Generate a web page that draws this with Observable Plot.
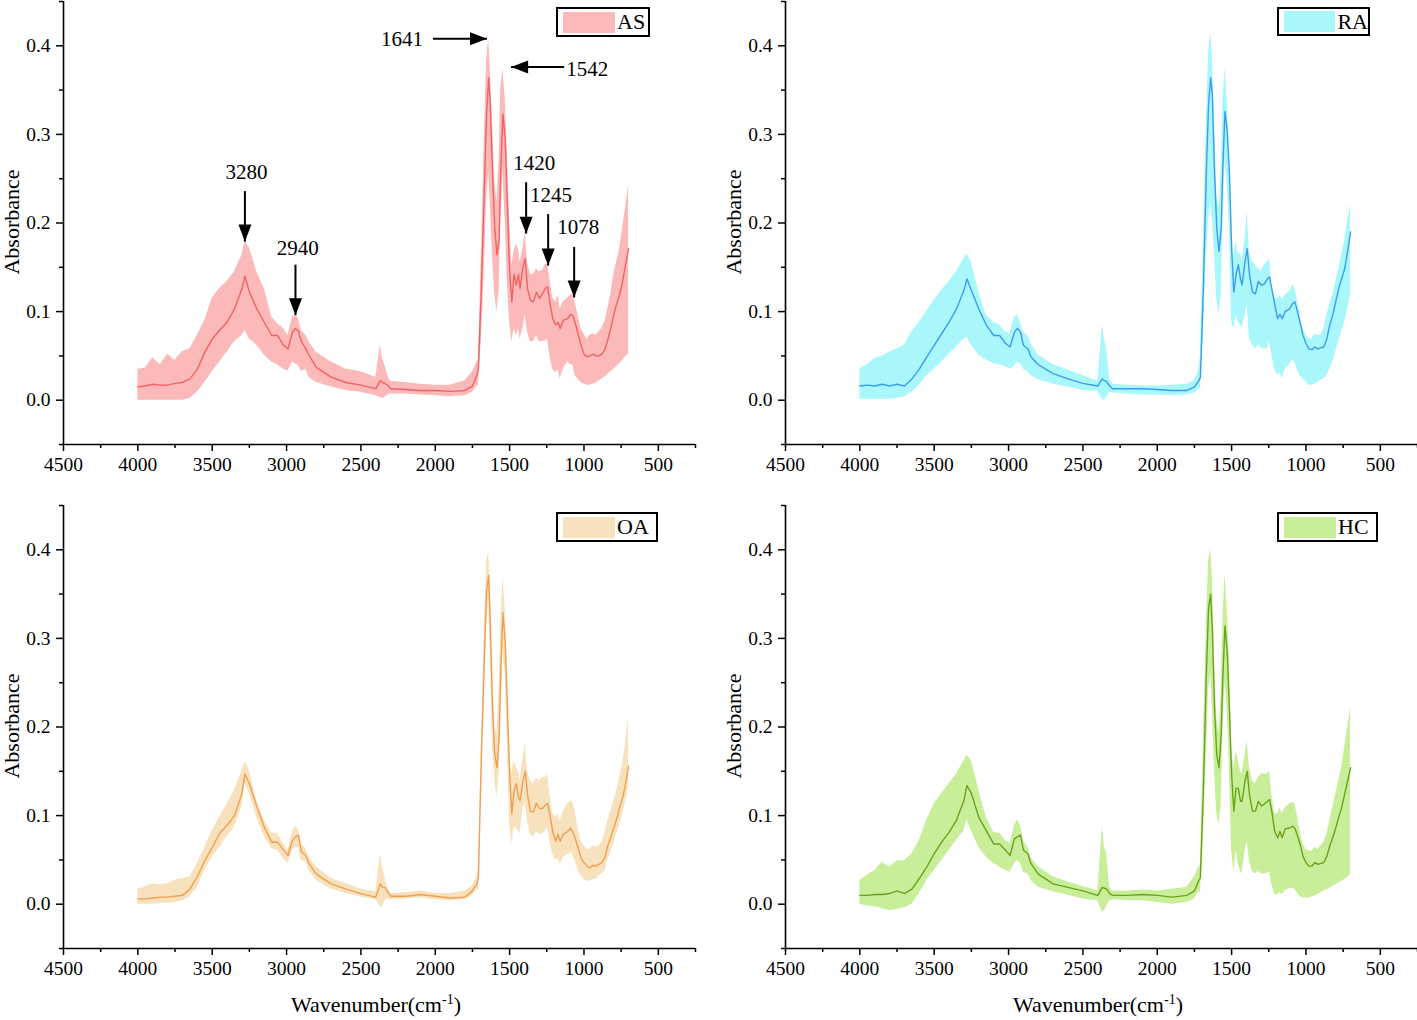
<!DOCTYPE html>
<html>
<head>
<meta charset="utf-8">
<script src="https://cdn.jsdelivr.net/npm/d3@7"></script>
<script src="https://cdn.jsdelivr.net/npm/@observablehq/plot@0.6"></script>
<style>
  html, body { margin: 0; padding: 0; background: #fff; }
  #wrap { position: relative; width: 1417px; height: 1020px; overflow: hidden; background: #fff; font-family: "Liberation Serif", "DejaVu Serif", serif; color: #000; }
  .panel { position: absolute; }
  .ylab { position: absolute; font-size: 22px; white-space: nowrap; transform: translate(-50%, -50%) rotate(-90deg); }
  .xlab { position: absolute; font-size: 22px; white-space: nowrap; transform: translate(-50%, -50%); }
  .xlab sup { font-size: 14px; vertical-align: 8px; line-height: 0; }
  .legend { position: absolute; box-sizing: border-box; border: 2px solid #000; display: flex; align-items: center; padding-left: 5px; font-size: 22px; background: #fff; }
  .legend .sw { width: 52px; height: 21px; margin-right: 2px; }
</style>
</head>
<body>
<div id="wrap"></div>
<script>
// ---- Data ----
const wn = [4000,3950,3900,3850,3800,3750,3700,3650,3600,3550,
  3500,3450,3400,3350,3300,3280,3250,3200,3150,3100,
  3060,3020,2990,2960,2940,2920,2900,2870,2850,2800,
  2700,2600,2500,2400,2370,2355,2340,2320,2300,2200,
  2100,2000,1900,1800,1750,1720,1710,1690,1670,1655,
  1641,1630,1615,1600,1585,1570,1560,1545,1530,1515,
  1500,1485,1470,1455,1440,1430,1410,1395,1380,1360,
  1340,1320,1300,1280,1260,1245,1230,1210,1190,1175,
  1160,1140,1110,1090,1075,1060,1040,1020,1000,980,
  960,940,920,900,880,860,840,820,800,780,
  760,740,720,700];

const asMean = [.015,.016,.018,.017,.017,.019,.020,.024,.035,.054,
  .069,.079,.088,.103,.126,.140,.122,.103,.088,.073,
  .073,.062,.058,.077,.081,.078,.066,.058,.051,.037,
  .026,.020,.017,.013,.022,.020,.019,.017,.013,.012,
  .011,.011,.010,.011,.016,.028,.035,.126,.239,.323,
  .364,.334,.258,.194,.164,.182,.258,.323,.296,.221,
  .145,.111,.142,.130,.142,.126,.150,.160,.126,.113,
  .111,.122,.115,.120,.126,.128,.111,.092,.085,.088,
  .081,.090,.092,.097,.095,.088,.075,.062,.052,.049,
  .050,.052,.050,.050,.052,.057,.068,.081,.096,.109,
  .119,.134,.153,.171];
const asHi = [.035,.036,.048,.040,.052,.045,.055,.058,.073,.090,
  .115,.126,.134,.145,.164,.179,.172,.145,.126,.094,
  .086,.081,.073,.094,.096,.092,.079,.073,.066,.054,
  .043,.035,.032,.026,.062,.047,.040,.028,.021,.020,
  .018,.017,.017,.022,.032,.043,.046,.164,.296,.383,
  .409,.372,.315,.247,.224,.277,.352,.374,.341,.277,
  .202,.153,.168,.176,.171,.156,.171,.190,.156,.142,
  .142,.148,.145,.146,.153,.154,.137,.115,.111,.119,
  .103,.111,.115,.119,.120,.111,.096,.081,.075,.069,
  .073,.075,.073,.077,.081,.088,.103,.119,.142,.156,
  .171,.194,.217,.243];
const asLo = [.000,.000,.000,.000,.000,.000,.000,.002,.009,.020,
  .032,.043,.054,.066,.073,.079,.069,.062,.051,.043,
  .040,.035,.033,.043,.041,.039,.032,.035,.026,.020,
  .015,.011,.009,.005,.003,.002,.003,.006,.007,.007,
  .006,.005,.004,.005,.009,.016,.017,.069,.145,.224,
  .258,.221,.164,.119,.100,.126,.202,.258,.202,.134,
  .088,.066,.081,.073,.081,.069,.081,.096,.077,.066,
  .066,.073,.066,.066,.067,.069,.051,.035,.031,.035,
  .024,.035,.043,.040,.040,.028,.024,.020,.018,.017,
  .017,.018,.019,.022,.024,.026,.029,.032,.035,.038,
  .041,.045,.049,.053];

const raMean = [.016,.017,.016,.018,.016,.018,.016,.024,.035,.049,
  .062,.075,.088,.103,.124,.137,.124,.103,.085,.073,
  .073,.064,.060,.077,.081,.077,.062,.058,.049,.040,
  .030,.024,.019,.016,.024,.022,.021,.016,.013,.013,
  .013,.012,.011,.011,.015,.022,.026,.126,.258,.334,
  .364,.346,.258,.194,.168,.194,.258,.326,.304,.258,
  .171,.122,.142,.153,.137,.130,.156,.171,.142,.122,
  .120,.134,.130,.131,.137,.139,.126,.108,.092,.097,
  .092,.100,.103,.109,.111,.102,.088,.073,.064,.058,
  .057,.060,.058,.059,.060,.069,.085,.096,.111,.126,
  .137,.148,.168,.190];
const raHi = [.035,.040,.047,.050,.054,.058,.062,.077,.088,.100,
  .113,.124,.134,.145,.160,.165,.156,.122,.096,.088,
  .085,.077,.075,.094,.096,.088,.077,.073,.064,.051,
  .040,.034,.028,.021,.085,.069,.058,.024,.018,.017,
  .016,.016,.017,.018,.022,.035,.051,.182,.315,.391,
  .415,.391,.315,.232,.217,.258,.334,.375,.341,.284,
  .194,.164,.179,.164,.166,.156,.182,.213,.166,.156,
  .153,.148,.146,.153,.156,.160,.130,.115,.115,.119,
  .114,.119,.122,.130,.126,.115,.096,.081,.073,.069,
  .069,.075,.073,.073,.081,.096,.108,.119,.134,.148,
  .164,.179,.202,.221];
const raLo = [.001,.001,.001,.001,.001,.002,.004,.009,.017,.028,
  .035,.043,.052,.060,.069,.071,.062,.051,.045,.041,
  .040,.038,.035,.038,.043,.041,.035,.032,.028,.023,
  .018,.015,.011,.010,.001,.000,.004,.009,.008,.007,
  .006,.006,.005,.006,.008,.012,.013,.069,.164,.202,
  .221,.205,.164,.115,.096,.119,.194,.270,.247,.194,
  .088,.081,.096,.088,.085,.081,.096,.108,.069,.062,
  .058,.062,.058,.058,.058,.066,.051,.035,.028,.031,
  .024,.035,.040,.046,.043,.035,.028,.024,.020,.017,
  .017,.018,.020,.023,.024,.028,.035,.043,.054,.066,
  .077,.088,.103,.119];

const oaMean = [.006,.006,.007,.008,.008,.009,.010,.017,.031,.049,
  .064,.080,.089,.100,.125,.147,.136,.110,.087,.070,
  .070,.061,.055,.072,.076,.078,.059,.055,.046,.034,
  .023,.017,.012,.008,.023,.019,.019,.014,.009,.009,
  .011,.009,.007,.008,.015,.023,.030,.165,.278,.354,
  .371,.316,.222,.169,.154,.192,.260,.329,.297,.222,
  .147,.102,.128,.136,.120,.117,.139,.150,.124,.105,
  .104,.114,.108,.108,.112,.114,.102,.082,.071,.079,
  .071,.079,.082,.086,.082,.075,.064,.052,.047,.043,
  .041,.044,.043,.045,.047,.052,.066,.075,.086,.096,
  .109,.120,.136,.156];
const oaHi = [.017,.020,.023,.022,.023,.027,.029,.031,.046,.064,
  .083,.098,.113,.129,.151,.162,.151,.117,.095,.080,
  .080,.068,.061,.083,.087,.085,.068,.063,.053,.042,
  .029,.023,.017,.014,.057,.042,.031,.019,.012,.013,
  .015,.012,.012,.015,.021,.031,.041,.184,.316,.388,
  .397,.365,.260,.199,.192,.248,.316,.369,.335,.267,
  .165,.147,.162,.154,.150,.139,.165,.181,.150,.139,
  .136,.143,.139,.143,.143,.147,.124,.102,.098,.102,
  .094,.105,.113,.116,.116,.105,.086,.071,.066,.062,
  .062,.066,.064,.066,.070,.079,.094,.105,.116,.128,
  .143,.158,.181,.211];
const oaLo = [.000,.000,.000,.001,.001,.002,.004,.008,.019,.038,
  .053,.064,.076,.087,.110,.136,.125,.098,.076,.063,
  .061,.051,.046,.061,.064,.064,.049,.048,.038,.027,
  .017,.012,.008,.005,-.002,-.004,.004,.006,.005,.006,
  .007,.005,.004,.005,.010,.017,.015,.147,.241,.316,
  .342,.278,.177,.139,.120,.147,.203,.286,.260,.177,
  .090,.068,.086,.086,.082,.079,.109,.115,.094,.079,
  .075,.082,.079,.079,.082,.086,.071,.056,.049,.052,
  .045,.052,.056,.058,.056,.049,.039,.032,.028,.026,
  .026,.028,.028,.032,.034,.037,.049,.058,.069,.079,
  .090,.102,.116,.131];

const hcMean = [.010,.010,.011,.011,.012,.015,.012,.017,.029,.042,
  .057,.070,.081,.095,.117,.134,.125,.098,.083,.068,
  .068,.061,.055,.074,.076,.078,.061,.057,.046,.034,
  .023,.019,.015,.010,.019,.018,.017,.012,.010,.010,
  .011,.010,.008,.010,.015,.027,.030,.128,.260,.335,
  .350,.312,.222,.169,.154,.192,.252,.314,.286,.222,
  .147,.105,.131,.131,.116,.116,.139,.150,.124,.105,
  .105,.116,.111,.113,.116,.118,.105,.082,.075,.082,
  .075,.085,.086,.088,.086,.079,.068,.054,.047,.043,
  .043,.047,.045,.046,.047,.054,.066,.075,.086,.098,
  .109,.124,.139,.154];
const hcHi = [.027,.033,.038,.047,.042,.049,.049,.057,.072,.095,
  .113,.125,.136,.147,.162,.168,.162,.129,.098,.081,
  .080,.072,.068,.089,.095,.089,.072,.064,.053,.042,
  .031,.025,.020,.015,.087,.064,.057,.019,.015,.015,
  .016,.015,.017,.019,.031,.042,.044,.184,.316,.388,
  .401,.373,.278,.211,.192,.241,.316,.373,.335,.278,
  .177,.154,.173,.162,.150,.147,.169,.184,.154,.139,
  .136,.143,.147,.147,.147,.150,.124,.102,.102,.109,
  .102,.109,.113,.115,.113,.102,.082,.068,.062,.060,
  .060,.064,.062,.066,.070,.079,.094,.109,.124,.139,
  .154,.177,.199,.222];
const hcLo = [.000,-.002,-.003,-.005,-.007,-.006,-.004,.000,.012,.027,
  .038,.049,.061,.072,.083,.095,.083,.064,.053,.046,
  .042,.038,.036,.046,.049,.046,.036,.034,.027,.019,
  .014,.010,.006,.004,-.009,-.007,-.002,.004,.005,.004,
  .004,.002,.000,.002,.006,.015,.012,.071,.165,.241,
  .260,.222,.147,.102,.090,.111,.184,.252,.222,.154,
  .060,.037,.060,.045,.037,.034,.060,.071,.049,.037,
  .034,.037,.034,.034,.035,.037,.023,.011,.011,.013,
  .011,.015,.018,.018,.017,.013,.009,.007,.007,.007,
  .008,.009,.011,.013,.015,.016,.018,.020,.022,.024,
  .026,.028,.030,.034];

// Axis ticks
const xMajor = [4500,4000,3500,3000,2500,2000,1500,1000,500];
const xMinor = [4250,3750,3250,2750,2250,1750,1250,750,250];
const yMajor = [0,0.1,0.2,0.3,0.4];
const yMinor = [-0.05,0.05,0.15,0.25,0.35,0.45];

// Peak annotations (AS panel)
const peakLabels = ["3280","2940","1641","1542","1420","1245","1078"];
const peakLabelX = [3270,2925,2224,978,1335,1221,1039];
const peakLabelY = [0.257,0.172,0.407,0.374,0.267,0.231,0.195];
const arrowX1 = [3280,2940,2015,1133,1389,1241,1066];
const arrowY1 = [0.236,0.153,0.408,0.376,0.246,0.210,0.173];
const arrowX2 = [3280,2940,1652,1490,1389,1241,1066];
const arrowY2 = [0.179,0.096,0.408,0.376,0.188,0.152,0.116];
const arrowDir = ["down","down","right","left","down","down","down"];

const panels = [
  {name:"AS", mean:asMean, hi:asHi, lo:asLo, band:"#fbb9b9", line:"#f26262", left:0, top:0, width:708, mr:13, legend:{left:556, top:7, w:94, h:30}, ann:true},
  {name:"RA", mean:raMean, hi:raHi, lo:raLo, band:"#a9f7fa", line:"#3b9df0", left:722, top:0, width:695, mr:0, legend:{left:1277, top:7, w:93, h:29}},
  {name:"OA", mean:oaMean, hi:oaHi, lo:oaLo, band:"#f7e2bd", line:"#f09f52", left:0, top:504, width:708, mr:13, legend:{left:556, top:512, w:102, h:30}, xlab:true},
  {name:"HC", mean:hcMean, hi:hcHi, lo:hcLo, band:"#c9ee99", line:"#67a41c", left:722, top:504, width:695, mr:0, legend:{left:1277, top:512, w:101, h:30}, xlab:true}
];

// Arrowhead shapes (tip at origin)
const headDown = {draw(c){ c.moveTo(0,0); c.lineTo(-6.5,-17); c.lineTo(6.5,-17); c.closePath(); }};
const headRight = {draw(c){ c.moveTo(0,0); c.lineTo(-17,-6.5); c.lineTo(-17,6.5); c.closePath(); }};
const headLeft = {draw(c){ c.moveTo(0,0); c.lineTo(17,-6.5); c.lineTo(17,6.5); c.closePath(); }};

const wrap = document.getElementById("wrap");

for (const p of panels) {
  const rows = wn.map((w, i) => ({w, m: p.mean[i], hi: p.hi[i], lo: p.lo[i]}));
  const marks = [
    Plot.areaY(rows, {x: "w", y1: "lo", y2: "hi", fill: p.band}),
    Plot.line(rows, {x: "w", y: "m", stroke: p.line, strokeWidth: 1.4}),
    Plot.axisX(xMajor, {tickSize: 7, tickPadding: 6, tickFormat: d => String(d), label: null, strokeWidth: 1.5, fontSize: 19.5}),
    Plot.axisX(xMinor, {tickSize: 4, tickFormat: () => "", label: null, strokeWidth: 1.5}),
    Plot.axisY(yMajor, {tickSize: 7, tickPadding: 6, tickFormat: d3.format(".1f"), label: null, strokeWidth: 1.5, fontSize: 19.5}),
    Plot.axisY(yMinor, {tickSize: 4, tickFormat: () => "", label: null, strokeWidth: 1.5}),
    Plot.ruleX([4500], {strokeWidth: 1.6}),
    Plot.ruleY([-0.05], {strokeWidth: 1.6})
  ];
  if (p.ann) {
    const arrows = arrowX1.map((x1, i) => ({x1, y1: arrowY1[i], x2: arrowX2[i], y2: arrowY2[i], dir: arrowDir[i]}));
    const labels = peakLabels.map((t, i) => ({t, x: peakLabelX[i], y: peakLabelY[i]}));
    marks.push(
      Plot.link(arrows, {x1: "x1", y1: "y1", x2: "x2", y2: "y2", stroke: "black", strokeWidth: 2}),
      Plot.dot(arrows.filter(d => d.dir === "down"), {x: "x2", y: "y2", symbol: headDown, fill: "black", stroke: "none"}),
      Plot.dot(arrows.filter(d => d.dir === "right"), {x: "x2", y: "y2", symbol: headRight, fill: "black", stroke: "none"}),
      Plot.dot(arrows.filter(d => d.dir === "left"), {x: "x2", y: "y2", symbol: headLeft, fill: "black", stroke: "none"}),
      Plot.text(labels, {x: "x", y: "y", text: "t", fontSize: 21, fill: "black"})
    );
  }
  const chart = Plot.plot({
    width: p.width,
    height: 500,
    marginLeft: 63,
    marginRight: p.mr,
    marginTop: 1,
    marginBottom: 56,
    style: {fontFamily: "Liberation Serif", fontSize: "19.5px", color: "black", background: "white", overflow: "visible"},
    x: {domain: [4500, 250]},
    y: {domain: [-0.05, 0.45]},
    marks
  });
  const div = document.createElement("div");
  div.className = "panel";
  div.style.left = p.left + "px";
  div.style.top = p.top + "px";
  div.appendChild(chart);
  wrap.appendChild(div);

  // y label
  const yl = document.createElement("div");
  yl.className = "ylab";
  yl.textContent = "Absorbance";
  yl.style.left = (p.left + 12) + "px";
  yl.style.top = (p.top + 222) + "px";
  wrap.appendChild(yl);

  // legend
  const lg = document.createElement("div");
  lg.className = "legend";
  lg.style.left = p.legend.left + "px";
  lg.style.top = p.legend.top + "px";
  lg.style.width = p.legend.w + "px";
  lg.style.height = p.legend.h + "px";
  const sw = document.createElement("div");
  sw.className = "sw";
  sw.style.background = p.band;
  const tx = document.createElement("span");
  tx.textContent = p.name;
  lg.appendChild(sw);
  lg.appendChild(tx);
  wrap.appendChild(lg);

  if (p.xlab) {
    const xl = document.createElement("div");
    xl.className = "xlab";
    xl.innerHTML = "Wavenumber(cm<sup>-1</sup>)";
    xl.style.left = (p.left + 376) + "px";
    xl.style.top = "1005px";
    wrap.appendChild(xl);
  }
}
</script>
</body>
</html>
